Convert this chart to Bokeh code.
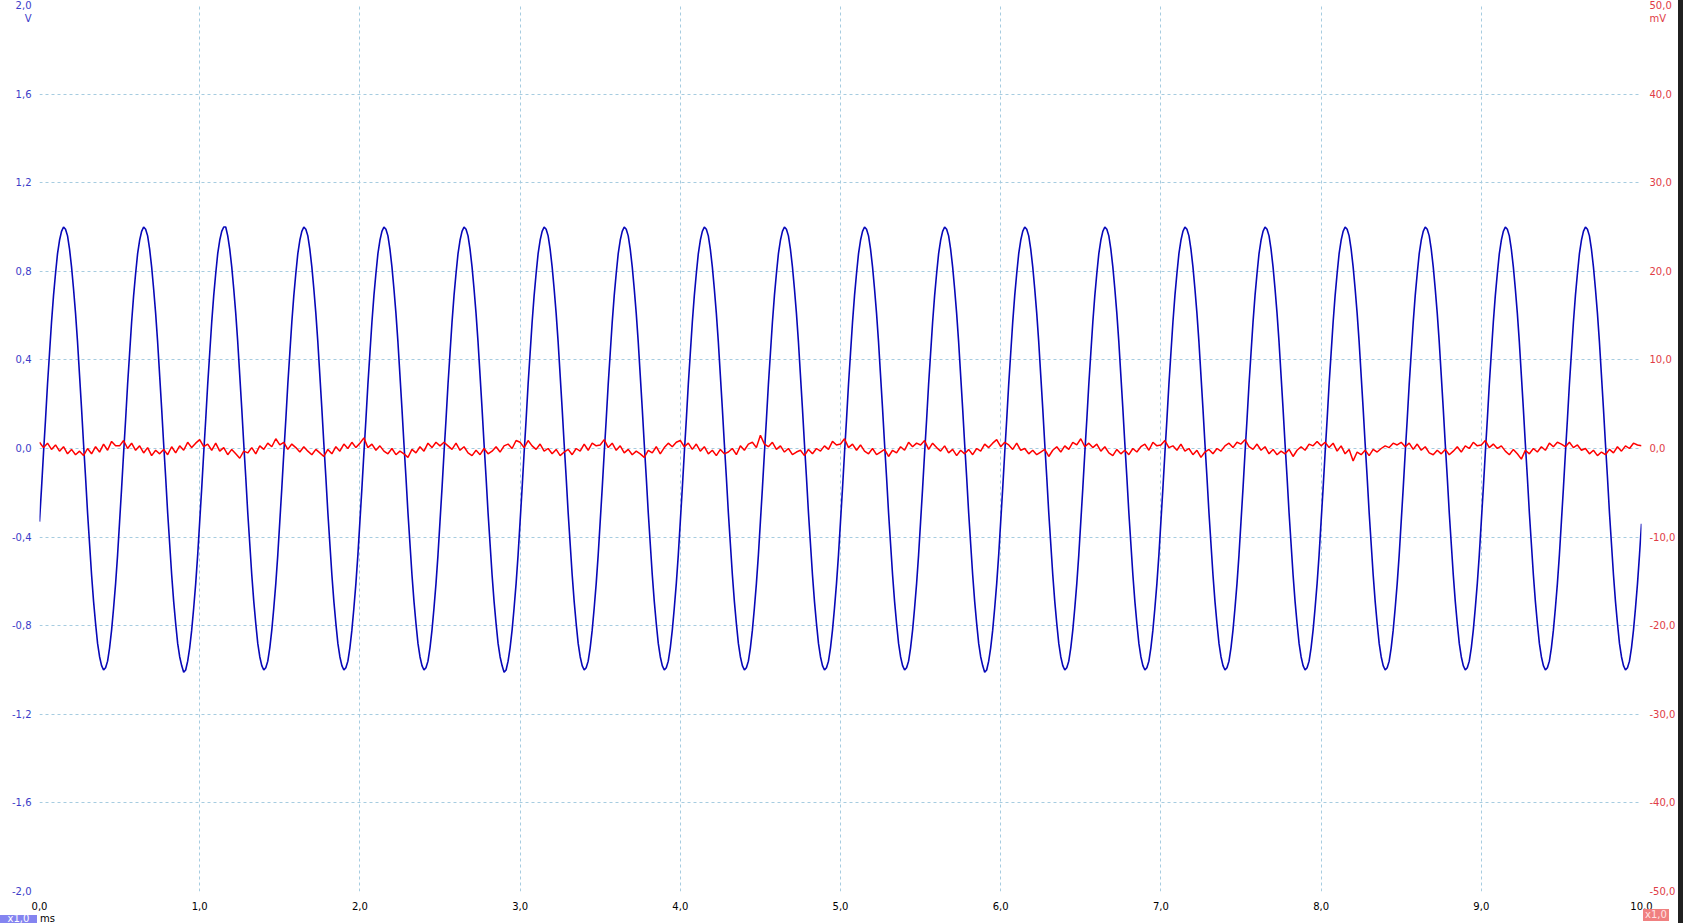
import numpy as np
from bokeh.plotting import figure
from bokeh.layouts import column, row
from bokeh.models import Range1d, LinearAxis, FixedTicker, CustomJSTickFormatter, Div, Spacer
from bokeh.embed import file_html
from bokeh.resources import INLINE

# ---------------- data ----------------
A_SAMPLE_INTERVAL_MS = 0.0125
B_SAMPLE_INTERVAL_MS = 0.025

# Channel A (V): one row per 0.5 ms cycle, 40 samples per row
channel_a_v = [
    -0.33, -0.18, -0.02, 0.13, 0.29, 0.43, 0.57, 0.69, 0.79, 0.88, 0.94, 0.98, 1.00, 0.99, 0.96, 0.90, 0.82, 0.72, 0.61, 0.48, 0.33, 0.18, 0.02, -0.13, -0.29, -0.43, -0.57, -0.69, -0.79, -0.88, -0.94, -0.98, -1.00, -0.99, -0.96, -0.90, -0.82, -0.72, -0.61, -0.48,
    -0.33, -0.18, -0.02, 0.13, 0.29, 0.43, 0.57, 0.69, 0.79, 0.88, 0.94, 0.98, 1.00, 0.99, 0.96, 0.90, 0.82, 0.72, 0.61, 0.48, 0.33, 0.18, 0.02, -0.13, -0.29, -0.43, -0.57, -0.69, -0.79, -0.88, -0.94, -0.98, -1.01, -1.00, -0.96, -0.90, -0.82, -0.72, -0.61, -0.48,
    -0.33, -0.18, -0.02, 0.13, 0.29, 0.43, 0.57, 0.69, 0.79, 0.88, 0.94, 0.98, 1.00, 1.00, 0.96, 0.90, 0.82, 0.72, 0.61, 0.48, 0.33, 0.18, 0.02, -0.13, -0.29, -0.43, -0.57, -0.69, -0.79, -0.88, -0.94, -0.98, -1.00, -0.99, -0.96, -0.90, -0.82, -0.72, -0.61, -0.48,
    -0.33, -0.18, -0.02, 0.13, 0.29, 0.43, 0.57, 0.69, 0.79, 0.88, 0.94, 0.98, 1.00, 0.99, 0.96, 0.90, 0.82, 0.72, 0.61, 0.48, 0.33, 0.18, 0.02, -0.13, -0.29, -0.43, -0.57, -0.69, -0.79, -0.88, -0.94, -0.98, -1.00, -0.99, -0.96, -0.90, -0.82, -0.72, -0.61, -0.48,
    -0.33, -0.18, -0.02, 0.13, 0.29, 0.43, 0.57, 0.69, 0.79, 0.88, 0.94, 0.98, 1.00, 0.99, 0.96, 0.90, 0.82, 0.72, 0.61, 0.48, 0.33, 0.18, 0.02, -0.13, -0.29, -0.43, -0.57, -0.69, -0.79, -0.88, -0.94, -0.98, -1.00, -0.99, -0.96, -0.90, -0.82, -0.72, -0.61, -0.48,
    -0.33, -0.18, -0.02, 0.13, 0.29, 0.43, 0.57, 0.69, 0.79, 0.88, 0.94, 0.98, 1.00, 0.99, 0.96, 0.90, 0.82, 0.72, 0.61, 0.48, 0.33, 0.18, 0.02, -0.13, -0.29, -0.43, -0.57, -0.69, -0.79, -0.88, -0.94, -0.98, -1.01, -1.00, -0.96, -0.90, -0.82, -0.72, -0.61, -0.48,
    -0.33, -0.18, -0.02, 0.13, 0.29, 0.43, 0.57, 0.69, 0.79, 0.88, 0.94, 0.98, 1.00, 0.99, 0.96, 0.90, 0.82, 0.72, 0.61, 0.48, 0.33, 0.18, 0.02, -0.13, -0.29, -0.43, -0.57, -0.69, -0.79, -0.88, -0.94, -0.98, -1.00, -0.99, -0.96, -0.90, -0.82, -0.72, -0.61, -0.48,
    -0.33, -0.18, -0.02, 0.13, 0.29, 0.43, 0.57, 0.69, 0.79, 0.88, 0.94, 0.98, 1.00, 0.99, 0.96, 0.90, 0.82, 0.72, 0.61, 0.48, 0.33, 0.18, 0.02, -0.13, -0.29, -0.43, -0.57, -0.69, -0.79, -0.88, -0.94, -0.98, -1.00, -0.99, -0.96, -0.90, -0.82, -0.72, -0.61, -0.48,
    -0.33, -0.18, -0.02, 0.13, 0.29, 0.43, 0.57, 0.69, 0.79, 0.88, 0.94, 0.98, 1.00, 0.99, 0.96, 0.90, 0.82, 0.72, 0.61, 0.48, 0.33, 0.18, 0.02, -0.13, -0.29, -0.43, -0.57, -0.69, -0.79, -0.88, -0.94, -0.98, -1.00, -0.99, -0.96, -0.90, -0.82, -0.72, -0.61, -0.48,
    -0.33, -0.18, -0.02, 0.13, 0.29, 0.43, 0.57, 0.69, 0.79, 0.88, 0.94, 0.98, 1.00, 0.99, 0.96, 0.90, 0.82, 0.72, 0.61, 0.48, 0.33, 0.18, 0.02, -0.13, -0.29, -0.43, -0.57, -0.69, -0.79, -0.88, -0.94, -0.98, -1.00, -0.99, -0.96, -0.90, -0.82, -0.72, -0.61, -0.48,
    -0.33, -0.18, -0.02, 0.13, 0.29, 0.43, 0.57, 0.69, 0.79, 0.88, 0.94, 0.98, 1.00, 0.99, 0.96, 0.90, 0.82, 0.72, 0.61, 0.48, 0.33, 0.18, 0.02, -0.13, -0.29, -0.43, -0.57, -0.69, -0.79, -0.88, -0.94, -0.98, -1.00, -0.99, -0.96, -0.90, -0.82, -0.72, -0.61, -0.48,
    -0.33, -0.18, -0.02, 0.13, 0.29, 0.43, 0.57, 0.69, 0.79, 0.88, 0.94, 0.98, 1.00, 0.99, 0.96, 0.90, 0.82, 0.72, 0.61, 0.48, 0.33, 0.18, 0.02, -0.13, -0.29, -0.43, -0.57, -0.69, -0.79, -0.88, -0.94, -0.98, -1.01, -1.00, -0.96, -0.90, -0.82, -0.72, -0.61, -0.48,
    -0.33, -0.18, -0.02, 0.13, 0.29, 0.43, 0.57, 0.69, 0.79, 0.88, 0.94, 0.98, 1.00, 0.99, 0.96, 0.90, 0.82, 0.72, 0.61, 0.48, 0.33, 0.18, 0.02, -0.13, -0.29, -0.43, -0.57, -0.69, -0.79, -0.88, -0.94, -0.98, -1.00, -0.99, -0.96, -0.90, -0.82, -0.72, -0.61, -0.48,
    -0.33, -0.18, -0.02, 0.13, 0.29, 0.43, 0.57, 0.69, 0.79, 0.88, 0.94, 0.98, 1.00, 0.99, 0.96, 0.90, 0.82, 0.72, 0.61, 0.48, 0.33, 0.18, 0.02, -0.13, -0.29, -0.43, -0.57, -0.69, -0.79, -0.88, -0.94, -0.98, -1.00, -0.99, -0.96, -0.90, -0.82, -0.72, -0.61, -0.48,
    -0.33, -0.18, -0.02, 0.13, 0.29, 0.43, 0.57, 0.69, 0.79, 0.88, 0.94, 0.98, 1.00, 0.99, 0.96, 0.90, 0.82, 0.72, 0.61, 0.48, 0.33, 0.18, 0.02, -0.13, -0.29, -0.43, -0.57, -0.69, -0.79, -0.88, -0.94, -0.98, -1.00, -0.99, -0.96, -0.90, -0.82, -0.72, -0.61, -0.48,
    -0.33, -0.18, -0.02, 0.13, 0.29, 0.43, 0.57, 0.69, 0.79, 0.88, 0.94, 0.98, 1.00, 0.99, 0.96, 0.90, 0.82, 0.72, 0.61, 0.48, 0.33, 0.18, 0.02, -0.13, -0.29, -0.43, -0.57, -0.69, -0.79, -0.88, -0.94, -0.98, -1.00, -0.99, -0.96, -0.90, -0.82, -0.72, -0.61, -0.48,
    -0.33, -0.18, -0.02, 0.13, 0.29, 0.43, 0.57, 0.69, 0.79, 0.88, 0.94, 0.98, 1.00, 0.99, 0.96, 0.90, 0.82, 0.72, 0.61, 0.48, 0.33, 0.18, 0.02, -0.13, -0.29, -0.43, -0.57, -0.69, -0.79, -0.88, -0.94, -0.98, -1.00, -0.99, -0.96, -0.90, -0.82, -0.72, -0.61, -0.48,
    -0.33, -0.18, -0.02, 0.13, 0.29, 0.43, 0.57, 0.69, 0.79, 0.88, 0.94, 0.98, 1.00, 0.99, 0.96, 0.90, 0.82, 0.72, 0.61, 0.48, 0.33, 0.18, 0.02, -0.13, -0.29, -0.43, -0.57, -0.69, -0.79, -0.88, -0.94, -0.98, -1.00, -0.99, -0.96, -0.90, -0.82, -0.72, -0.61, -0.48,
    -0.33, -0.18, -0.02, 0.13, 0.29, 0.43, 0.57, 0.69, 0.79, 0.88, 0.94, 0.98, 1.00, 0.99, 0.96, 0.90, 0.82, 0.72, 0.61, 0.48, 0.33, 0.18, 0.02, -0.13, -0.29, -0.43, -0.57, -0.69, -0.79, -0.88, -0.94, -0.98, -1.00, -0.99, -0.96, -0.90, -0.82, -0.72, -0.61, -0.48,
    -0.33, -0.18, -0.02, 0.13, 0.29, 0.43, 0.57, 0.69, 0.79, 0.88, 0.94, 0.98, 1.00, 0.99, 0.96, 0.90, 0.82, 0.72, 0.61, 0.48, 0.33, 0.18, 0.02, -0.13, -0.29, -0.43, -0.57, -0.69, -0.79, -0.88, -0.94, -0.98, -1.00, -0.99, -0.96, -0.90, -0.82, -0.72, -0.61, -0.48,
    -0.34,
]

# Channel B (mV): one row per 0.5 ms cycle, 20 samples per row
channel_b_mv = [
    0.7, 0.1, 0.6, -0.1, 0.4, -0.3, 0.2, -0.6, -0.1, -0.7, -0.3, -0.8, 0.0, -0.6, 0.2, -0.4, 0.5, -0.2, 0.8, 0.3,
    0.3, 0.9, 0.0, 0.6, -0.2, 0.3, -0.5, 0.1, -0.8, -0.2, -0.6, -0.1, -0.7, 0.2, -0.5, 0.3, -0.2, 0.7, 0.1, 0.6,
    1.0, 0.2, 0.5, -0.2, 0.6, -0.3, 0.1, -0.7, -0.1, -0.6, -1.1, -0.3, -0.5, 0.1, -0.6, 0.3, -0.1, 0.6, 0.2, 1.1,
    0.4, 0.7, -0.1, 0.5, 0.1, -0.4, 0.2, -0.3, -0.7, -0.1, -0.5, -0.9, -0.1, -0.6, 0.2, -0.3, 0.5, 0.0, 0.7, 0.1,
    0.6, 1.2, 0.1, 0.5, -0.2, 0.3, -0.3, -0.6, 0.0, -0.7, -0.3, -0.6, -1.0, -0.1, -0.5, 0.2, -0.3, 0.6, 0.1, 0.7,
    0.3, 0.7, 0.3, -0.1, 0.6, -0.2, 0.2, -0.5, -0.8, -0.2, -0.7, 0.0, -0.6, -0.3, 0.2, -0.4, 0.3, 0.5, 0.0, 0.9,
    0.7, 0.1, 0.9, 0.3, -0.1, 0.5, -0.3, 0.0, -0.6, -0.1, -0.8, -0.4, -0.1, -0.7, 0.0, -0.3, 0.5, -0.2, 0.6, 0.3,
    0.4, 1.0, 0.1, 0.6, -0.2, 0.3, -0.5, -0.1, -0.7, -0.3, -0.6, -1.0, -0.2, -0.5, 0.2, -0.6, 0.1, 0.6, 0.2, 0.7,
    0.9, 0.2, 0.6, -0.1, 0.5, -0.3, 0.2, -0.6, -0.2, -0.8, -0.1, -0.6, -0.4, 0.0, -0.7, 0.3, -0.2, 0.5, 0.7, 0.1,
    1.5, 0.5, 0.2, 0.7, -0.1, 0.3, -0.4, 0.0, -0.7, -0.4, -0.2, -0.8, -0.1, -0.6, 0.0, -0.3, 0.3, -0.1, 0.8, 0.4,
    0.5, 1.1, 0.1, 0.5, -0.2, 0.4, -0.3, -0.6, 0.0, -0.7, -0.4, -0.1, -0.9, -0.2, -0.5, 0.2, -0.2, 0.7, 0.2, 0.6,
    0.4, 0.9, -0.1, 0.6, 0.1, -0.3, 0.3, -0.5, -0.1, -0.8, -0.2, -0.6, -0.1, -0.7, 0.0, -0.3, 0.5, 0.1, 0.6, 1.0,
    0.2, 0.7, 0.4, -0.1, 0.6, -0.2, 0.0, -0.6, -0.2, -0.7, -0.4, -0.1, -0.9, -0.2, 0.2, -0.4, 0.3, -0.1, 0.7, 0.4,
    1.1, 0.2, 0.6, 0.1, 0.5, -0.3, 0.2, -0.5, -0.8, -0.1, -0.6, -0.2, -0.7, 0.0, -0.4, 0.2, 0.5, -0.2, 0.7, 0.3,
    0.4, 0.9, 0.1, 0.3, -0.2, 0.5, -0.3, 0.0, -0.7, -0.2, -1.0, -0.4, -0.1, -0.6, 0.0, -0.3, 0.3, 0.6, 0.1, 0.7,
    0.5, 1.0, 0.2, -0.1, 0.5, -0.2, 0.2, -0.6, -0.1, -0.7, -0.3, -0.6, -0.1, -0.9, -0.2, 0.2, -0.2, 0.5, 0.3, 0.8,
    0.3, 0.7, 0.1, 0.6, -0.3, 0.3, -0.6, -0.1, -1.4, -0.4, -0.7, -0.2, -0.8, -0.1, -0.4, 0.0, 0.3, 0.1, 0.6, 0.4,
    0.7, 0.2, 0.6, -0.1, 0.5, -0.2, 0.2, -0.5, -0.7, -0.2, -0.6, -0.1, -0.7, -0.3, 0.2, -0.4, 0.3, 0.0, 0.7, 0.3,
    0.4, 0.9, 0.1, 0.5, 0.0, 0.3, -0.3, -0.7, -0.1, -0.6, -1.2, -0.2, -0.6, 0.0, -0.4, 0.2, -0.2, 0.6, 0.2, 0.7,
    0.5, 0.2, 0.7, 0.1, 0.4, -0.2, 0.0, -0.6, -0.2, -0.8, -0.4, -0.7, -0.1, -0.5, 0.2, -0.3, 0.3, 0.0, 0.6, 0.4,
    0.3,
]

x_ticks_ms = [0, 1, 2, 3, 4, 5, 6, 7, 8, 9, 10]
y_ticks_v = [-2.0, -1.6, -1.2, -0.8, -0.4, 0.0, 0.4, 0.8, 1.2, 1.6, 2.0]
y_ticks_mv = [-50, -40, -30, -20, -10, 0, 10, 20, 30, 40, 50]
unit_v_pos = 1.94      # where the "V" unit text sits on the left scale
unit_mv_pos = 48.5     # where the "mV" unit text sits on the right scale

time_a_ms = np.arange(len(channel_a_v)) * A_SAMPLE_INTERVAL_MS
time_b_ms = np.arange(len(channel_b_mv)) * B_SAMPLE_INTERVAL_MS

# ---------------- styling ----------------
BLUE_TRACE = "#0808b8"
BLUE_TEXT = "#3c3cc8"
RED_TRACE = "#ff0000"
RED_TEXT = "#e03c46"
GRID = "#a6cce0"
FONT = "DejaVu Sans"

p = figure(
    frame_width=1602, frame_height=886,
    min_border_left=39, min_border_right=36, min_border_top=5, min_border_bottom=17,
    x_range=Range1d(0, 10), y_range=Range1d(-2.0, 2.0),
    output_backend="svg", toolbar_location=None, tools="",
    background_fill_color="white", border_fill_color="white",
    outline_line_color=None,
)
p.extra_y_ranges = {"mv": Range1d(-50, 50)}

def fmt(overrides):
    return CustomJSTickFormatter(
        args=dict(keys=list(overrides.keys()), vals=list(overrides.values())),
        code="""
for (let i = 0; i < keys.length; i++) {
  if (Math.abs(tick - keys[i]) < 1e-6) { return vals[i]; }
}
return tick.toFixed(1).replace('.', ',');
""",
    )

def style_axis(ax, color, standoff):
    ax.axis_line_color = None
    ax.major_tick_line_color = None
    ax.minor_tick_line_color = None
    ax.major_label_text_color = color
    ax.major_label_text_font = FONT
    ax.major_label_text_font_size = "10px"
    ax.major_label_standoff = standoff

xa = p.xaxis[0]
xa.ticker = FixedTicker(ticks=x_ticks_ms)
xa.formatter = fmt({})
style_axis(xa, "#000000", 4)

ya = p.yaxis[0]
ya.ticker = FixedTicker(ticks=y_ticks_v + [unit_v_pos])
ya.formatter = fmt({unit_v_pos: "V"})
style_axis(ya, BLUE_TEXT, 2)

right_axis = LinearAxis(y_range_name="mv", ticker=FixedTicker(ticks=y_ticks_mv + [unit_mv_pos]),
                        formatter=fmt({unit_mv_pos: "mV"}))
style_axis(right_axis, RED_TEXT, 2)
p.add_layout(right_axis, "right")

p.xgrid[0].ticker = FixedTicker(ticks=x_ticks_ms)
p.ygrid[0].ticker = FixedTicker(ticks=y_ticks_v)
for g in (p.xgrid[0], p.ygrid[0]):
    g.grid_line_color = GRID
    g.grid_line_dash = "3 3"
    g.grid_line_width = 1

p.line(time_a_ms, channel_a_v, line_color=BLUE_TRACE, line_width=1.6)
p.line(time_b_ms, channel_b_mv, line_color=RED_TRACE, line_width=1.5, y_range_name="mv")

# ---------------- bottom strip: channel badges and time unit ----------------
base_css = {"font-family": FONT, "font-size": "10px", "overflow": "visible"}
badge_a = Div(text="x1,0", width=37, height=8, margin=(6, 0, 1, 0),
              styles={**base_css, "background-color": "#8484f0", "color": "#ffffff",
                      "text-align": "center", "line-height": "8px",
                      "position": "relative", "top": "-3px"})
unit_ms = Div(text="ms", width=30, height=15, margin=(0, 0, 0, 0),
              styles={**base_css, "color": "#000000", "padding-left": "3px", "line-height": "12px",
                      "padding-top": "1px"})
badge_b = Div(text="x1,0", width=26, height=12, margin=(1, 0, 2, 0),
              styles={**base_css, "background-color": "#f08080", "color": "#ffe4e4",
                      "text-align": "center", "line-height": "12px",
                      "position": "relative", "top": "-4px"})
bottom = row(badge_a, unit_ms, Spacer(width=1576, height=15), badge_b, Spacer(width=8, height=15),
             spacing=0)
side_strip = Div(text="", width=6, height=923, margin=(0, 0, 0, 0),
                 styles={"background-color": "#202020"})

layout = row(column(p, bottom, spacing=0), side_strip, spacing=0)

open("out.html", "w").write(file_html(layout, INLINE))
